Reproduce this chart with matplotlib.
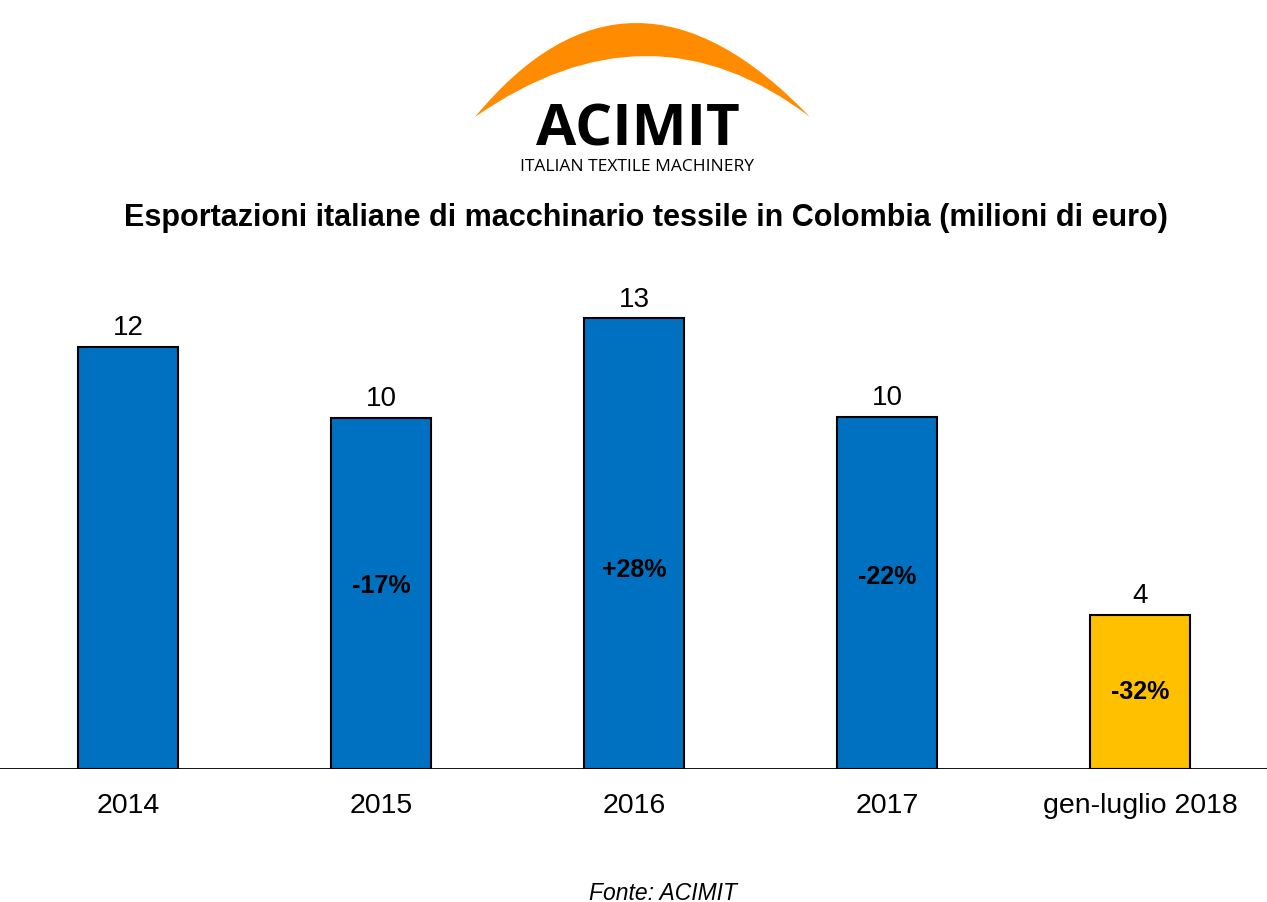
import matplotlib
matplotlib.use("Agg")
import matplotlib.pyplot as plt
import numpy as np
from matplotlib.path import Path
from matplotlib.patches import PathPatch

# dati (milioni di euro)
categorie = ["2014", "2015", "2016", "2017", "gen-luglio 2018"]
valori = [12.0, 9.97, 12.8, 10.0, 4.37]
etichette_valori = ["12", "10", "13", "10", "4"]
variazioni = ["", "-17%", "+28%", "-22%", "-32%"]
colori = ["#0070C0", "#0070C0", "#0070C0", "#0070C0", "#FFC000"]
# altezza delle etichette percentuali (in unita' del grafico)
y_variazioni = [0, 5.2, 5.65, 5.45, 2.19]

narrow = ["Liberation Sans Narrow", "Liberation Sans", "DejaVu Sans"]
arial = ["Liberation Sans", "DejaVu Sans"]

fig = plt.figure(figsize=(12.67, 9.02), dpi=100)
W, H = 1267, 902

# --- grafico a barre ---
ax = fig.add_axes([0, (H - 769) / H, 1, (769 - 250) / H])
x = np.arange(len(categorie))
ax.bar(x, valori, width=0.395, color=colori, edgecolor="black", linewidth=1.5, zorder=3)
ax.set_xlim(-0.506, 4.502)
ax.set_ylim(0, (769 - 250) / 35.2)
for s in ["top", "left", "right", "bottom"]:
    ax.spines[s].set_visible(False)
ax.axhline(0, color="black", linewidth=1.3, zorder=4)
ax.set_yticks([])
ax.set_xticks(x)
ax.set_xticklabels(categorie, fontsize=20.5, family=arial)
ax.tick_params(axis="x", length=0, pad=17)

for i, v in enumerate(valori):
    ax.annotate(etichette_valori[i], (x[i], v), xytext=(0, 8.5), textcoords="offset points",
                ha="center", va="baseline", fontsize=20, family=narrow)
    if variazioni[i]:
        ax.text(x[i], y_variazioni[i], variazioni[i], ha="center", va="center",
                fontsize=18, fontweight="bold", family=narrow, zorder=5)

# --- titolo e fonte ---
fig.text(646 / W, 1 - 218 / H,
         "Esportazioni italiane di macchinario tessile in Colombia (milioni di euro)",
         ha="center", va="center", fontsize=22, fontweight="bold", family=narrow)
fig.text(663 / W, 1 - 893 / H, "Fonte: ACIMIT", ha="center", va="center",
         fontsize=16.5, style="italic", family=arial)

# --- logo ACIMIT ---
lx = fig.add_axes([0, 0, 1, 1], zorder=-1)
lx.set_xlim(0, W)
lx.set_ylim(H, 0)
lx.axis("off")
verts = [(475, 117), (630, -71), (810, 117), (650, -5), (475, 117)]
codes = [Path.MOVETO, Path.CURVE3, Path.CURVE3, Path.CURVE3, Path.CURVE3]
lx.add_patch(PathPatch(Path(verts, codes), facecolor="#FF8C00", edgecolor="none"))
lx.text(638, 145, "ACIMIT", ha="center", va="baseline", fontsize=42,
        fontweight="bold", family=["Open Sans", "DejaVu Sans"])
lx.text(637, 171, "ITALIAN TEXTILE MACHINERY", ha="center", va="baseline",
        fontsize=12.5, family=["Open Sans", "DejaVu Sans"])

fig.savefig("out.png", dpi=100)
